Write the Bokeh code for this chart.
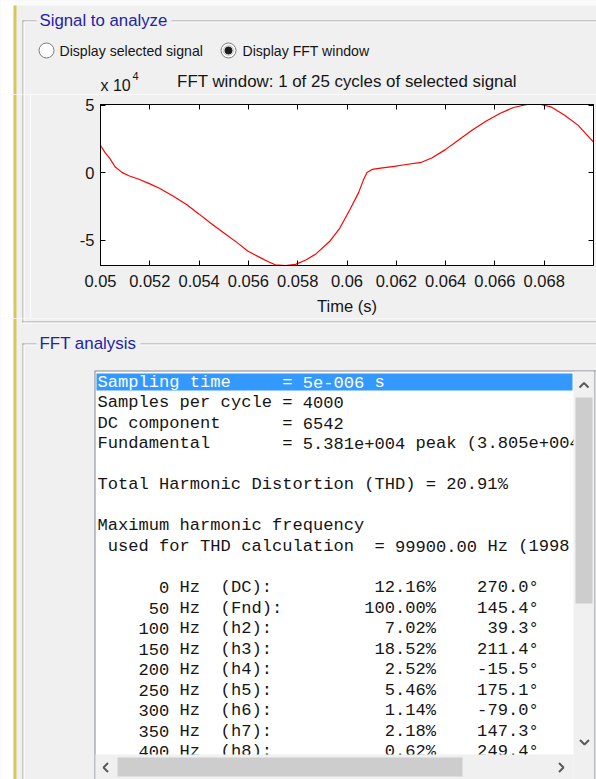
import re

from bokeh.core.properties import value
from bokeh.embed import file_html
from bokeh.layouts import column, row
from bokeh.models import (ColumnDataSource, CustomJSTickFormatter, FixedTicker,
                          LinearAxis, Range1d)
from bokeh.plotting import figure
from bokeh.resources import INLINE

# ---------------------------------------------------------------- data
# Selected signal inside the FFT window (time in s, amplitude in units of 1e4)
time_s = [0.05, 0.05018, 0.05039, 0.05059, 0.05087, 0.05115, 0.05156, 0.05198, 0.05239, 0.05294,
          0.05349, 0.05399, 0.05446, 0.05501, 0.05557, 0.05597, 0.0564, 0.05681, 0.05709, 0.0575,
          0.05791, 0.05833, 0.05874, 0.05929, 0.05971, 0.06012, 0.06047, 0.06068, 0.06081, 0.06102,
          0.06137, 0.06192, 0.06233, 0.06302, 0.06344, 0.06399, 0.06454, 0.0651, 0.06565, 0.0662,
          0.06675, 0.06731, 0.06786, 0.06827, 0.06883, 0.06938, 0.07]
amp_e4 = [2.03, 1.52, 1.03, 0.45, 0.03, -0.22, -0.48, -0.8, -1.15, -1.72,
          -2.35, -3.05, -3.72, -4.47, -5.22, -5.8, -6.22, -6.6, -6.83, -6.88,
          -6.8, -6.47, -6.02, -5.1, -4.1, -2.72, -1.47, -0.47, 0.03, 0.25,
          0.35, 0.48, 0.6, 0.78, 1.1, 1.72, 2.45, 3.2, 3.85, 4.4,
          4.85, 5.07, 5.07, 4.9, 4.27, 3.52, 2.28]

x_ticks = [0.05, 0.052, 0.054, 0.056, 0.058, 0.06, 0.062, 0.064, 0.066, 0.068]
x_tick_labels = ["0.05", "0.052", "0.054", "0.056", "0.058", "0.06", "0.062", "0.064", "0.066", "0.068"]
y_ticks = [-5, 0, 5]
y_tick_labels = ["-5", "0", "5"]

# FFT analysis summary
sampling_time = "5e-006"
samples_per_cycle = 4000
dc_component = 6542
fund_peak = "5.381e+004"
fund_rms = "3.805e+004"
thd_pct = 20.91
max_harm_freq_hz = 99900.00
n_harmonics = 1998

harm_freq_hz = [0, 50, 100, 150, 200, 250, 300, 350, 400]
harm_name = ["(DC):", "(Fnd):", "(h2):", "(h3):", "(h4):", "(h5):", "(h6):", "(h7):", "(h8):"]
harm_mag_pct = [12.16, 100.00, 7.02, 18.52, 2.52, 5.46, 1.14, 2.18, 0.62]
harm_phase_deg = [270.0, 145.4, 39.3, 211.4, -15.5, 175.1, -79.0, 147.3, 249.4]

# ---------------------------------------------------------------- styling
BG = "#f0f0f0"
EDGE = "#a0a0a0"
YELLOW = "#d3c85c"
TITLE_BLUE = "#2323a6"
UI_FONT = "Liberation Sans"
MONO_FONT = "Liberation Mono"
TEXT = "#151515"

W = 596
HEAD_H = 94           # group box header, radio buttons, plot title
MID_H = 318 - HEAD_H  # axes strip
BOT_H = 779 - HEAD_H - MID_H
STRIP_W = 30          # left window edge beside the axes
FL, FR, FT, FB = 100, 593, 104, 265      # axes box, page pixels


def pixel_fig(width, height, x0, y0):
    """Panel drawn in page pixel coordinates (y grows downward)."""
    p = figure(width=width, height=height, output_backend="svg", toolbar_location=None,
               title=None, x_range=Range1d(x0, x0 + width), y_range=Range1d(y0 + height, y0),
               x_axis_type=None, y_axis_type=None,
               min_border=0, min_border_left=0, min_border_right=0,
               min_border_top=0, min_border_bottom=0, frame_align=False,
               background_fill_color=BG, border_fill_color=BG, outline_line_color=None)
    return p


def box(p, l, t, r, b, color):
    p.quad(left=[l], right=[r], top=[t], bottom=[b], fill_color=color, line_color=None)


def label(p, text, x, y, size, color=TEXT, align="left", font=UI_FONT):
    p.text(x=[x], y=[y], text=[text], text_font=value(font), text_font_size=f"{size}px",
           text_color=color, text_align=align, text_baseline="middle")


# ---------------------------------------------------------------- header
head = pixel_fig(W, HEAD_H, 0, 0)
box(head, 0, 0, W, 5, "#fbfbfb")
box(head, 0, 0, 13, HEAD_H, "white")
box(head, 13, 5, 16, HEAD_H, YELLOW)

# "Signal to analyze" group box (top edge and left edge)
box(head, 22, 20, 23, HEAD_H, EDGE)
box(head, 23, 21, 24, HEAD_H, "white")
box(head, 22, 20, 36, 21, EDGE)
box(head, 171, 20, W, 21, EDGE)
box(head, 24, 21, 36, 22, "white")
box(head, 171, 21, W, 22, "white")
label(head, "Signal to analyze", 39, 20, 16.8, TITLE_BLUE)

# radio buttons
head.scatter(x=[46, 228], y=[50, 50], size=15, marker="circle",
             fill_color="white", line_color="#7a7a7a", line_width=1)
head.scatter(x=[228], y=[50], size=10, marker="circle",
             fill_color="#e2e2e2", line_color="#c8c8c8", line_width=1)
head.scatter(x=[228], y=[50], size=7, marker="circle",
             fill_color="#1c1c1c", line_color="#1c1c1c", line_width=1)
label(head, "Display selected signal", 59, 50, 14.1)
label(head, "Display FFT window", 242, 50, 14.1)

# axis exponent and plot title
label(head, "x 10", 100, 85, 16.0)
label(head, "4", 132, 75.5, 11)
label(head, "FFT window: 1 of 25 cycles of selected signal", (FL + FR) / 2, 81, 16.9,
      align="center")

# ---------------------------------------------------------------- left window edge beside the axes
strip = pixel_fig(STRIP_W, MID_H, 0, HEAD_H)
box(strip, 0, HEAD_H, 13, HEAD_H + MID_H, "white")
box(strip, 13, HEAD_H, 16, HEAD_H + MID_H, YELLOW)
box(strip, 22, HEAD_H, 23, HEAD_H + MID_H, EDGE)
box(strip, 23, HEAD_H, 24, HEAD_H + MID_H, "white")

# ---------------------------------------------------------------- signal axes
chart = figure(width=W - STRIP_W, height=MID_H, output_backend="svg", toolbar_location=None,
               title=None, x_range=Range1d(time_s[0], time_s[-1]),
               y_range=Range1d(min(amp_e4), max(amp_e4)),
               min_border_left=FL - STRIP_W, min_border_right=W - FR,
               min_border_top=FT - HEAD_H, min_border_bottom=HEAD_H + MID_H - FB,
               frame_align=False, background_fill_color="white", border_fill_color=BG,
               outline_line_color="black")
chart.grid.visible = False
chart.line(time_s, amp_e4, line_color="#ff0000", line_width=1.2)

ax_bottom = chart.below[0]
ax_left = chart.left[0]

label_fmt = ("const i = tvals.findIndex(t => Math.abs(t - tick) < 1e-9);"
             "return i < 0 ? '' : tlabs[i];")
ax_bottom.ticker = FixedTicker(ticks=x_ticks)
ax_bottom.formatter = CustomJSTickFormatter(args=dict(tvals=x_ticks, tlabs=x_tick_labels),
                                            code=label_fmt)
ax_left.ticker = FixedTicker(ticks=y_ticks)
ax_left.formatter = CustomJSTickFormatter(args=dict(tvals=y_ticks, tlabs=y_tick_labels),
                                          code=label_fmt)

blank = CustomJSTickFormatter(code="return '';")
ax_top = LinearAxis(ticker=FixedTicker(ticks=x_ticks), formatter=blank, major_label_standoff=0)
ax_right = LinearAxis(ticker=FixedTicker(ticks=y_ticks), formatter=blank, major_label_standoff=0)
chart.add_layout(ax_top, "above")
chart.add_layout(ax_right, "right")

for ax in [ax_bottom, ax_left, ax_top, ax_right]:
    ax.major_tick_in = 5
    ax.major_tick_out = 0
    ax.minor_tick_line_color = None
    ax.axis_line_color = "black"
    ax.major_tick_line_color = "black"
    ax.major_label_text_font = UI_FONT
    ax.major_label_text_font_size = "16.5px"
    ax.major_label_text_color = TEXT

ax_bottom.major_label_standoff = 9
ax_left.major_label_standoff = 6
ax_bottom.axis_label = "Time (s)"
ax_bottom.axis_label_text_font = UI_FONT
ax_bottom.axis_label_text_font_size = "16.5px"
ax_bottom.axis_label_text_font_style = "normal"
ax_bottom.axis_label_text_color = TEXT
ax_bottom.axis_label_standoff = 7

# ---------------------------------------------------------------- FFT analysis listing
Y0 = HEAD_H + MID_H
YE = 779
bot = pixel_fig(W, BOT_H, 0, Y0)

box(bot, 0, Y0, 13, YE, "white")
box(bot, 13, Y0, 16, YE, YELLOW)

# bottom edge of the "Signal to analyze" group box
box(bot, 22, Y0, 23, 322, EDGE)
box(bot, 23, Y0, 24, 321, "white")
box(bot, 22, 321, W, 322, EDGE)
box(bot, 22, 322, W, 323, "white")

# "FFT analysis" group box
box(bot, 22, 343, 23, YE, EDGE)
box(bot, 23, 344, 24, YE, "white")
box(bot, 22, 343, 36, 344, EDGE)
box(bot, 140, 343, W, 344, EDGE)
box(bot, 24, 344, 36, 345, "white")
box(bot, 140, 344, W, 345, "white")
label(bot, "FFT analysis", 39, 343, 16.9, TITLE_BLUE)

# list box
LB_L, LB_T, LB_R, LB_B = 94, 370, 573, 754
box(bot, LB_L, LB_T, W, YE, "#828790")
box(bot, LB_L + 1, LB_T + 1, W, YE, "white")
box(bot, LB_L + 2, 373, 572, 390, "#3399ff")

info_lines = [
    f"Sampling time     = {sampling_time} s",
    f"Samples per cycle = {samples_per_cycle}",
    f"DC component      = {dc_component}",
    f"Fundamental       = {fund_peak} peak ({fund_rms}",
    "",
    f"Total Harmonic Distortion (THD) = {thd_pct:.2f}%",
    "",
    "Maximum harmonic frequency",
    f" used for THD calculation  = {max_harm_freq_hz:.2f} Hz ({n_harmonics}",
    "",
]
for f, n, m, ph in zip(harm_freq_hz, harm_name, harm_mag_pct, harm_phase_deg):
    mag = f"{m:.2f}"
    line = f"{f:>7} Hz  {n}".ljust(32 - len(mag)) + mag + "%" + f"{ph:.1f}".rjust(9) + "\u00b0"
    info_lines.append(line)

MONO_PX = 17.1
ADV = 0.6 * MONO_PX
TX0, TY0, LINE_H = 97, 381.5, 20.55
tok_x, tok_y, tok_t, tok_c = [], [], [], []
for i, line in enumerate(info_lines):
    for mt in re.finditer(r"\S+", line):
        tok_x.append(TX0 + mt.start() * ADV)
        tok_y.append(TY0 + i * LINE_H)
        tok_t.append(mt.group())
        tok_c.append("white" if i == 0 else TEXT)
bot.text(x="x", y="y", text="t", text_color="c",
         source=ColumnDataSource(dict(x=tok_x, y=tok_y, t=tok_t, c=tok_c)),
         text_font=value(MONO_FONT), text_font_size=f"{MONO_PX}px", text_baseline="middle")

# scroll bars
box(bot, LB_R, LB_T + 1, 594, YE, BG)
box(bot, 594, LB_T, 595, YE, "#828790")
box(bot, 595, LB_T, W, YE, BG)
box(bot, LB_R + 2, 397, 592, 603, "#cdcdcd")
box(bot, LB_L + 1, LB_B, LB_R, YE, BG)
box(bot, 117, 757, 462, 776, "#cdcdcd")

chev_xs = [[579, 583.5, 588], [579.5, 584, 588.5], [107.5, 103, 107.5], [558.5, 563, 558.5]]
chev_ys = [[387, 382.5, 387], [739.5, 744, 739.5], [762.5, 767, 771.5], [762.5, 767, 771.5]]
bot.multi_line(xs=chev_xs, ys=chev_ys, line_color="#5a5a5a", line_width=2)

layout = column(head, row(strip, chart), bot)
open("out.html", "w").write(file_html(layout, INLINE))
